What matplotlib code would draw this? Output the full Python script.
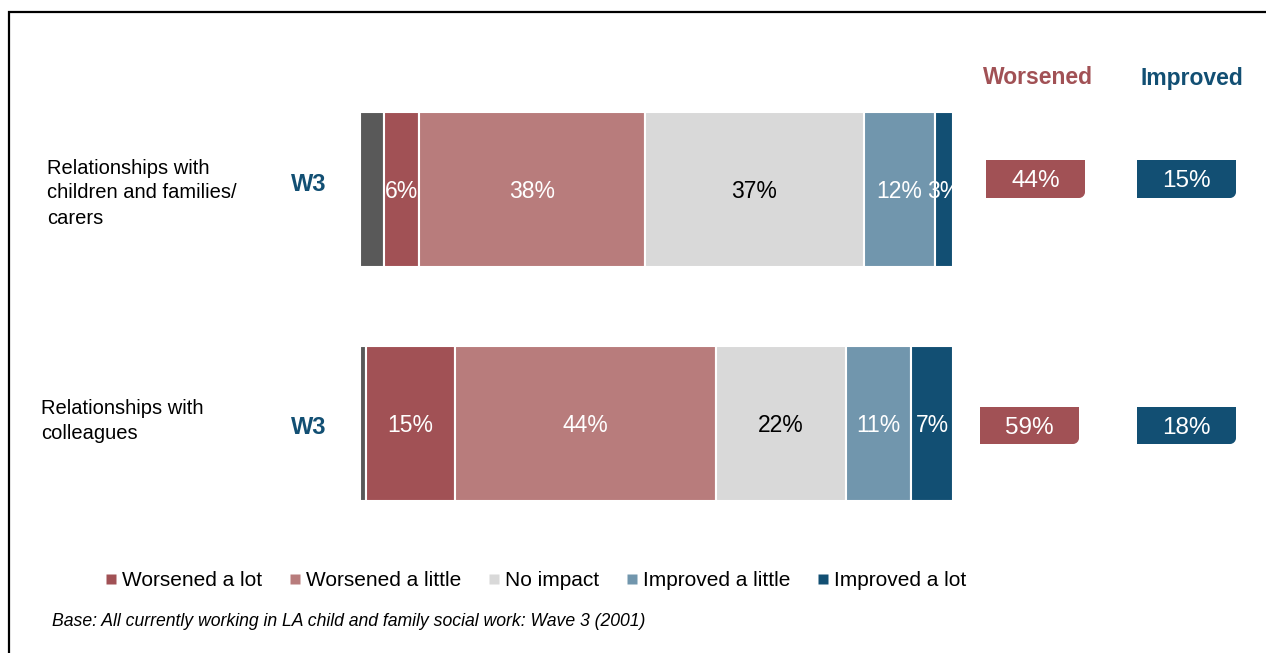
import matplotlib
matplotlib.use("Agg")
import matplotlib.pyplot as plt
from matplotlib.lines import Line2D
from matplotlib.patches import Rectangle, PathPatch
from matplotlib.path import Path

plt.rcParams['font.family'] = ['Liberation Sans', 'DejaVu Sans']

categories = ["Relationships with\nchildren and families/\ncarers", "Relationships with\ncolleagues"]
wave_labels = ["W3", "W3"]
series_names = ["Don't know", "Worsened a lot", "Worsened a little", "No impact", "Improved a little", "Improved a lot"]
values = [
    [4, 6, 38, 37, 12, 3],
    [1, 15, 44, 22, 11, 7],
]
show_label = [False, True, True, True, True, True]
worsened_totals = ["44%", "59%"]
improved_totals = ["15%", "18%"]
footnote = "Base: All currently working in LA child and family social work: Wave 3 (2001)"

colors = ["#595959", "#A15155", "#B87C7C", "#D9D9D9", "#7196AD", "#124F73"]
label_colors = ["white", "white", "white", "black", "white", "white"]
dark_blue = "#124F73"
dark_red = "#A15155"

W, H = 1266, 653
fig = plt.figure(figsize=(W / 100, H / 100), dpi=100)

def fx(px):
    return px / W

def fy(py):
    return 1 - py / H

# frame
fig.patches.append(Rectangle((fx(9), fy(700)), fx(1300) - fx(9), fy(12) - fy(700),
                             transform=fig.transFigure, fill=False, edgecolor="black",
                             linewidth=1.6, figure=fig))

# axes spanning bar area
ax = fig.add_axes([fx(360), fy(501), fx(953) - fx(360), fy(112) - fy(501)])
bar_h = 155 / 234
ax.set_xlim(0, 100)
ax.set_ylim(1 + bar_h / 2, -bar_h / 2)
ax.axis("off")

for i, row in enumerate(values):
    left = 0
    for j, v in enumerate(row):
        ax.barh(i, v, left=left, height=bar_h, color=colors[j], edgecolor="white", linewidth=1.5)
        if show_label[j]:
            ax.text(left + v / 2, i, f"{v}%", ha="center", va="center_baseline", fontsize=16.5,
                    color=label_colors[j])
        left += v

# left category labels and wave labels
cat_pos = [(47, 193), (41, 421)]
w_pos = [(291, 182), (291, 425)]
for i, cat in enumerate(categories):
    fig.text(fx(cat_pos[i][0]), fy(cat_pos[i][1]), cat, ha="left", va="center",
             fontsize=14.5, linespacing=1.4, color="black")
    fig.text(fx(w_pos[i][0]), fy(w_pos[i][1]), wave_labels[i], ha="left", va="center_baseline",
             fontsize=17, fontweight="bold", color=dark_blue)

# headers
fig.text(fx(1038), fy(75.5), "Worsened", ha="center", va="center_baseline", fontsize=16.5,
         fontweight="bold", color=dark_red)
fig.text(fx(1192), fy(75.5), "Improved", ha="center", va="center_baseline", fontsize=16.5,
         fontweight="bold", color=dark_blue)

def box(x0, y0, x1, y1, color, text, r=6):
    # pixel coords, y down; rounded bottom-right corner only
    k = 0.55
    verts = [
        (x0, y0), (x1, y0), (x1, y1 - r),
        (x1, y1 - r + r * k), (x1 - r + r * k, y1), (x1 - r, y1),
        (x0, y1), (x0, y0),
    ]
    codes = [Path.MOVETO, Path.LINETO, Path.LINETO,
             Path.CURVE4, Path.CURVE4, Path.CURVE4,
             Path.LINETO, Path.CLOSEPOLY]
    verts = [(fx(a), fy(b)) for a, b in verts]
    p = PathPatch(Path(verts, codes), facecolor=color, edgecolor="none",
                  transform=fig.transFigure, figure=fig)
    fig.patches.append(p)
    fig.text(fx((x0 + x1) / 2), fy((y0 + y1) / 2), text, ha="center", va="center_baseline",
             fontsize=17.5, color="white")

wbox = [(986, 160, 1085, 198), (980, 407, 1079, 444)]
ibox = [(1137, 160, 1236, 198), (1137, 407, 1236, 444)]
for i in range(2):
    box(*wbox[i], dark_red, worsened_totals[i])
    box(*ibox[i], dark_blue, improved_totals[i])

# legend
handles = [Line2D([], [], linestyle="none", marker="s", markersize=7,
                  markerfacecolor=colors[j], markeredgecolor="none")
           for j in range(1, len(series_names))]
fig.legend(handles, series_names[1:], loc="center", bbox_to_anchor=(fx(536), fy(581)),
           ncol=5, frameon=False, fontsize=15, handlelength=0.5, handletextpad=0.3,
           columnspacing=1.3, borderpad=0)

fig.text(fx(52), fy(621), footnote, ha="left", va="center", fontsize=12.7,
         fontstyle="italic", color="black")

fig.savefig("out.png", dpi=100)
